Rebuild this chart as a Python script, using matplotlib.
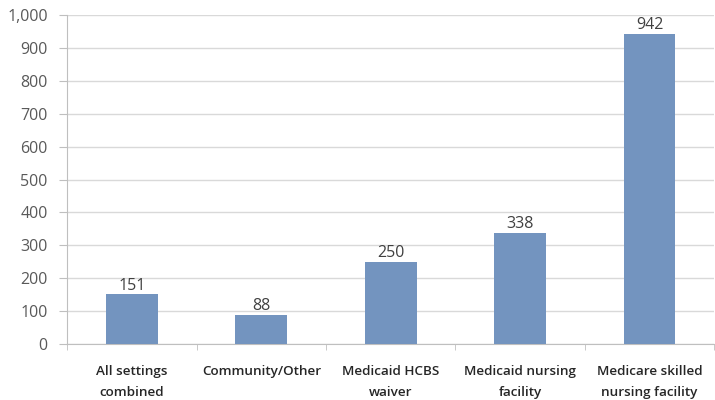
#!/usr/bin/env python3
# -*- coding: utf-8 -*-
"""
Bar chart of values per care setting.
"""

import matplotlib
matplotlib.use('Agg')
import matplotlib.pyplot as plt
import numpy as np

categories = ['All settings\ncombined', 'Community/Other', 'Medicaid HCBS\nwaiver',
              'Medicaid nursing\nfacility', 'Medicare skilled\nnursing facility']
values = [151, 88, 250, 338, 942]
y_ticks = list(range(0, 1001, 100))
y_tick_labels = ['{:,}'.format(t) for t in y_ticks]

plt.rcParams['font.family'] = ['Open Sans', 'DejaVu Sans']

figure = plt.figure(figsize=(7.15, 4.0), dpi=100)
axes = figure.add_axes([0.094, 0.14, 0.905, 0.8225])

x = np.arange(len(categories))
bars = axes.bar(x, values, width=0.4, color='#7394bf', zorder=3)
for rect, value in zip(bars, values):
    axes.text(rect.get_x() + rect.get_width() / 2, value + 2, str(value),
              ha='center', va='bottom', fontsize=11.5, color='#404040', zorder=4)

axes.set_xlim(-0.5, len(categories) - 0.5)
axes.set_ylim(0, 1000)
axes.set_yticks(y_ticks)
axes.set_yticklabels(y_tick_labels, fontsize=11.5, color='#595959')
axes.set_xticks(x)
axes.set_xticklabels(categories, fontsize=9.7, fontweight='semibold', color='#262626',
                     linespacing=1.8)
axes.tick_params(axis='x', length=0, pad=15)
axes.set_xticks(np.arange(len(categories) + 1) - 0.5, minor=True)
axes.tick_params(axis='x', which='minor', length=4, color='#bfbfbf')
axes.tick_params(axis='y', length=6, color='#bfbfbf', pad=8)

axes.grid(axis='y', color='#d9d9d9', linewidth=1, zorder=0)
for side in ['top', 'right']:
    axes.spines[side].set_visible(False)
axes.spines['left'].set_color('#bfbfbf')
axes.spines['bottom'].set_color('#bfbfbf')

figure.savefig('out.png', dpi=100)
plt.close(figure)
